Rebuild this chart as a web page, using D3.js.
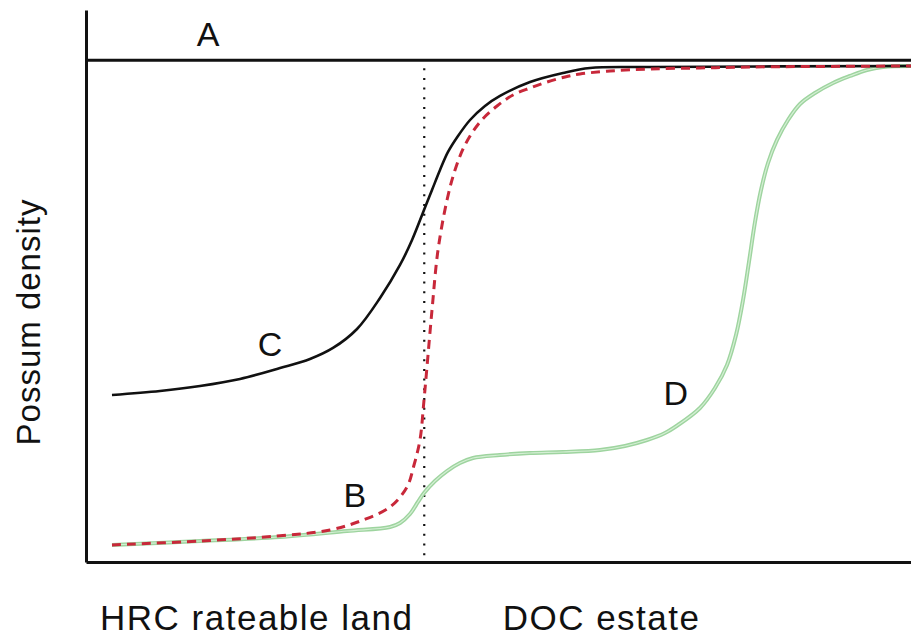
<!DOCTYPE html>
<html>
<head>
<meta charset="utf-8">
<script src="https://cdn.jsdelivr.net/npm/d3@7"></script>
<style>
  html, body { margin: 0; padding: 0; background: #fff; }
  svg { display: block; }
  text { font-family: "Liberation Sans", Arial, Helvetica, sans-serif; fill: #111; }
</style>
</head>
<body>
<svg id="chart" width="911" height="637"></svg>
<script>
// ---- data (x: position along gradient 0-100, y: possum density 0-110) ----
const lineA = [[0, 100], [100, 100]];
const lineC = [[3.15,33.28],[8.97,34.08],[13.82,35.07],[18.67,36.47],[23.52,38.65],[27.15,40.45],[29.94,42.65],[32.85,46.43],[35.64,52.61],[38.06,59.19],[39.52,64.17],[40.97,70.15],[41.94,74.13],[42.91,78.12],[43.88,81.71],[45.09,84.89],[46.55,88.08],[48.36,90.87],[50.18,92.87],[53.82,95.65],[57.82,97.45],[61.09,98.45],[68.36,98.64],[100,98.84]];
const lineB = [[3.15,3.39],[13.82,4.18],[23.15,5.18],[29.58,6.38],[33.58,8.37],[36.85,10.96],[38.91,14.95],[39.76,19.33],[40.48,24.31],[40.97,32.28],[41.33,38.86],[41.94,50.22],[42.67,62.18],[43.76,72.14],[44.73,78.12],[45.94,83.10],[47.76,87.69],[49.82,90.87],[51.76,93.06],[53.82,94.46],[55.88,95.65],[58.06,96.65],[59.88,97.25],[63.52,97.85],[68.36,98.25],[74.42,98.45],[80.48,98.64],[100,98.84]];
const lineD = [[3.15,3.39],[13.82,4.18],[23.52,4.98],[31.64,6.18],[36.85,6.97],[38.06,7.77],[39.27,9.57],[40.24,11.96],[40.97,13.75],[42.30,16.14],[43.76,18.13],[45.33,19.73],[46.91,20.72],[50.18,21.32],[53.82,21.72],[57.82,21.92],[62.30,22.32],[65.33,23.12],[68.00,24.31],[70.18,25.71],[71.76,27.30],[74.42,30.69],[76.24,34.67],[77.70,39.26],[78.79,45.24],[79.64,52.21],[80.36,59.78],[81.09,67.76],[81.82,74.13],[82.67,79.51],[83.76,84.10],[85.09,88.08],[86.55,91.27],[88.36,93.46],[90.55,95.46],[92.61,96.85],[94.67,98.05],[96.61,98.64],[100,98.84]];
const boundaryX = 41.0;
const boundaryTop = 98.4;
const curveLabels = [
  { text: "A", x: 14.8, y: 102.8 },
  { text: "C", x: 22.3, y: 41.0 },
  { text: "B", x: 32.6, y: 11.0 },
  { text: "D", x: 71.5, y: 31.3 }
];
const yTitle = "Possum density";
const xCategories = [
  { text: "HRC rateable land", x: 1.7 },
  { text: "DOC estate", x: 50.5 }
];

// ---- scales ----
const svg = d3.select("#chart");
const x = d3.scaleLinear().domain([0, 100]).range([86, 911]);
const y = d3.scaleLinear().domain([0, 110]).range([562, 10]);
const line = d3.line().x(d => x(d[0])).y(d => y(d[1])).curve(d3.curveCatmullRom.alpha(0.5));

// ---- axes (no ticks) ----
const gx = svg.append("g").attr("transform", `translate(0,${y(0)})`)
  .call(d3.axisBottom(x).tickValues([]).tickSizeOuter(0));
const gy = svg.append("g").attr("transform", `translate(${x(0)},0)`)
  .call(d3.axisLeft(y).tickValues([]).tickSizeOuter(0));
[gx, gy].forEach(g => g.select(".domain").attr("stroke", "#111").attr("stroke-width", 3));

// ---- line A ----
svg.append("path").datum(lineA).attr("d", d3.line().x(d => x(d[0])).y(d => y(d[1])))
  .attr("fill", "none").attr("stroke", "#111").attr("stroke-width", 3);

// ---- boundary dotted line ----
svg.append("line")
  .attr("x1", x(boundaryX)).attr("x2", x(boundaryX))
  .attr("y1", y(boundaryTop)).attr("y2", y(0))
  .attr("stroke", "#111").attr("stroke-width", 2.2)
  .attr("stroke-dasharray", "2,7.7");

// ---- line D (green double) ----
svg.append("path").datum(lineD).attr("d", line)
  .attr("fill", "none").attr("stroke", "#9ed49f").attr("stroke-width", 4);
svg.append("path").datum(lineD).attr("d", line)
  .attr("fill", "none").attr("stroke", "#d4efd4").attr("stroke-width", 1.2);

// ---- line C (black) ----
svg.append("path").datum(lineC).attr("d", line)
  .attr("fill", "none").attr("stroke", "#111").attr("stroke-width", 2.6);

// ---- line B (red dashed) ----
svg.append("path").datum(lineB).attr("d", line)
  .attr("fill", "none").attr("stroke", "#c8283a").attr("stroke-width", 3)
  .attr("stroke-dasharray", "9,6");

// ---- labels ----
svg.selectAll("text.curve").data(curveLabels).enter().append("text")
  .attr("class", "curve")
  .attr("x", d => x(d.x)).attr("y", d => y(d.y))
  .attr("text-anchor", "middle")
  .attr("font-size", 34)
  .text(d => d.text);

svg.append("text")
  .attr("transform", "translate(40,322) rotate(-90)")
  .attr("text-anchor", "middle")
  .attr("font-size", 33)
  .attr("letter-spacing", 1)
  .text(yTitle);

svg.selectAll("text.cat").data(xCategories).enter().append("text")
  .attr("class", "cat")
  .attr("x", d => x(d.x)).attr("y", 630)
  .attr("font-size", 35)
  .attr("letter-spacing", 1.5)
  .text(d => d.text);
</script>
</body>
</html>
